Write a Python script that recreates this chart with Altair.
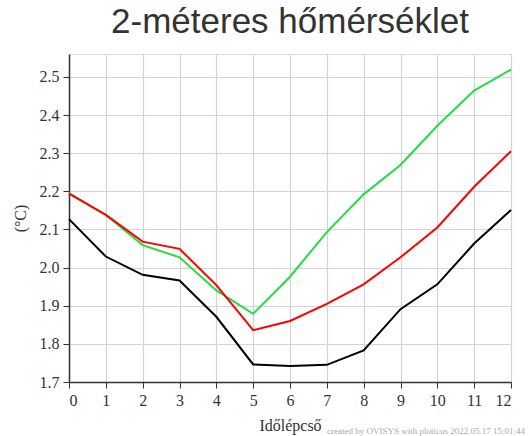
import altair as alt
import pandas as pd

steps = list(range(13))
green_vals = [2.195, 2.138, 2.059, 2.027, 1.940, 1.879, 1.976, 2.093, 2.192, 2.269, 2.372, 2.464, 2.519]
red_vals = [2.194, 2.138, 2.068, 2.049, 1.954, 1.836, 1.860, 1.905, 1.956, 2.027, 2.105, 2.212, 2.305]
black_vals = [2.127, 2.029, 1.981, 1.966, 1.871, 1.746, 1.742, 1.745, 1.783, 1.891, 1.956, 2.063, 2.151]

series_names = ["g", "k", "r"]
series_colors = ["#22dd44", "#000000", "#ff0000"]

rows = []
for name, vals in zip(series_names, [green_vals, black_vals, red_vals]):
    for s, v in zip(steps, vals):
        rows.append({"series": name, "step": s, "temp": v})
df = pd.DataFrame(rows)

serif = "Liberation Serif"

x_enc = alt.X(
    "step:Q",
    scale=alt.Scale(domain=[0, 12], nice=False, zero=False),
    axis=alt.Axis(
        values=steps, format="d", title="Időlépcső",
        titleFont=serif, titleFontSize=16, titleFontWeight="normal", titleColor="#333",
        labelFont=serif, labelFontSize=16, labelColor="#333", labelPadding=4,
        tickColor="#333", tickSize=6, domainColor="#333", domainWidth=1.5,
        gridColor="#d4d4d4", gridWidth=1.2, titlePadding=9,
    ),
)
y_enc = alt.Y(
    "temp:Q",
    scale=alt.Scale(domain=[1.7, 2.56], nice=False, zero=False),
    axis=alt.Axis(
        values=[1.7, 1.8, 1.9, 2.0, 2.1, 2.2, 2.3, 2.4, 2.5], format=".1f", title="(°C)",
        titleFont=serif, titleFontSize=16, titleFontWeight="normal", titleColor="#333",
        labelFont=serif, labelFontSize=16, labelColor="#333", labelPadding=4,
        tickColor="#333", tickSize=6, domainColor="#333", domainWidth=1.5,
        gridColor="#d4d4d4", gridWidth=1.2, titlePadding=11,
    ),
)
color_enc = alt.Color("series:N", scale=alt.Scale(domain=series_names, range=series_colors), legend=None)

layers = []
for name in series_names:
    layers.append(
        alt.Chart(df).transform_filter(alt.datum.series == name)
        .mark_line(strokeWidth=2)
        .encode(x=x_enc, y=y_enc, color=color_enc)
    )

credit = alt.Chart(pd.DataFrame({"t": ["created by OVISYS with ploticus 2022.05.17 15:01:44"]})).mark_text(
    font=serif, fontSize=9, color="#aaa", align="left", baseline="alphabetic"
).encode(x=alt.value(258), y=alt.value(380), text="t:N")

chart = alt.layer(*layers, credit).properties(
    width=442, height=328,
    autosize=alt.AutoSizeParams(type="none"),
    padding={"left": 69, "top": 54, "right": 17, "bottom": 54},
    title=alt.TitleParams(
        "2-méteres hőmérséklet", font="Liberation Sans", fontSize=35, fontWeight="normal",
        color="#333", anchor="middle", offset=14,
    ),
).configure_view(stroke="#777", strokeWidth=1.5).configure(background="white")

chart.save("out.html", embed_options={"renderer": "svg", "actions": False})
